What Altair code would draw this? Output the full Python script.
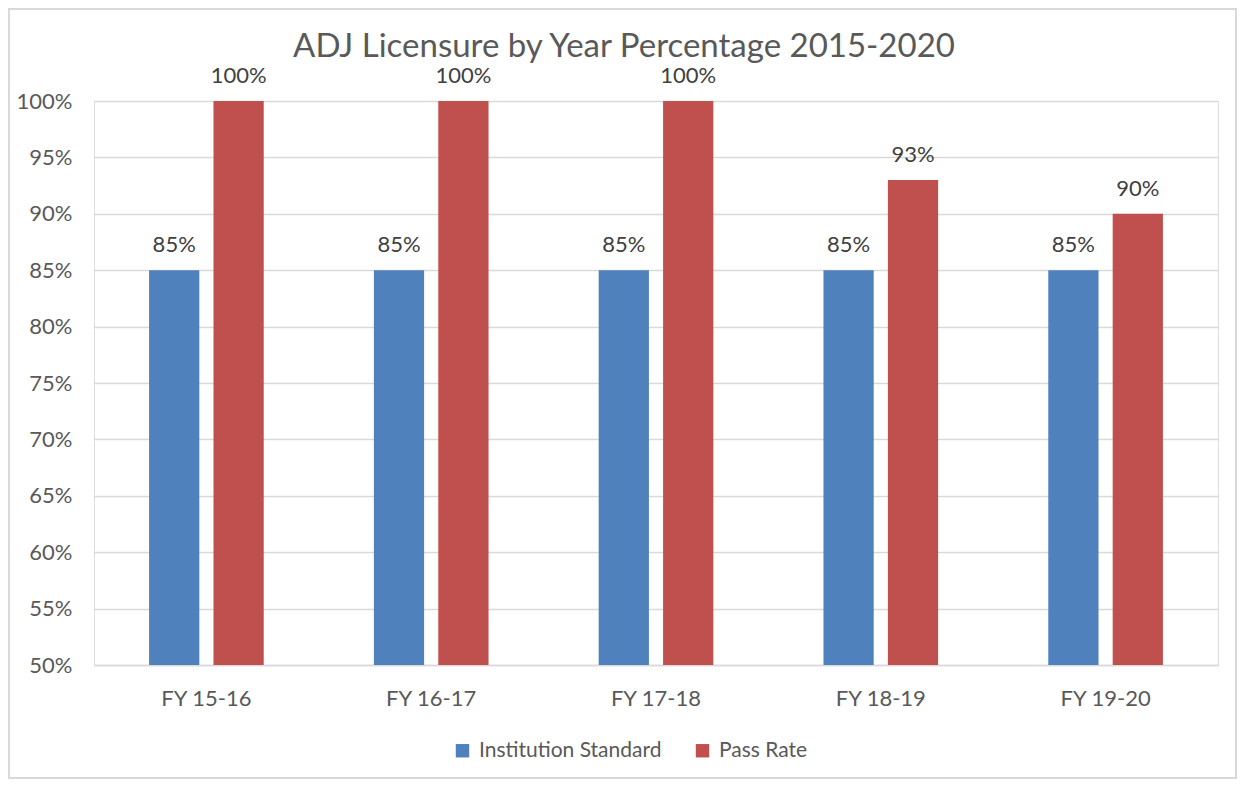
import altair as alt
import pandas as pd

years = ["FY 15-16", "FY 16-17", "FY 17-18", "FY 18-19", "FY 19-20"]
institution_standard = [0.85, 0.85, 0.85, 0.85, 0.85]
pass_rate = [1.00, 1.00, 1.00, 0.93, 0.90]
series_names = ["Institution Standard", "Pass Rate"]
series_colors = ["#4F81BD", "#C0504D"]
y_ticks = [0.50, 0.55, 0.60, 0.65, 0.70, 0.75, 0.80, 0.85, 0.90, 0.95, 1.00]

rows = []
for i, yr in enumerate(years):
    rows.append({"year": yr, "series": series_names[0], "value": institution_standard[i]})
    rows.append({"year": yr, "series": series_names[1], "value": pass_rate[i]})
df = pd.DataFrame(rows)

FONT = "Lato"
TXT = "#595959"
W, H = 1124, 564
TOTAL_W, TOTAL_H = 1229, 771
PAD_L, PAD_T = 86, 93

x_enc = alt.X("year:N", sort=years, title=None,
              scale=alt.Scale(paddingInner=0.49, paddingOuter=0.245),
              axis=alt.Axis(labelAngle=0, ticks=False, domainColor="#D9D9D9",
                            domainWidth=1.5, labelPadding=23, labelFontSize=22,
                            labelColor=TXT, labelFont=FONT))
xo_enc = alt.XOffset("series:N", sort=series_names,
                     scale=alt.Scale(paddingInner=0.22, paddingOuter=0))
y_enc = alt.Y("value:Q", title=None,
              scale=alt.Scale(domain=[0.5, 1.0], zero=False, nice=False),
              axis=alt.Axis(values=y_ticks, format=".0%", domain=False, ticks=False,
                            gridColor="#D9D9D9", gridWidth=1.3, labelPadding=22,
                            labelFontSize=22, labelColor=TXT, labelFont=FONT))

bars = alt.Chart(df).mark_bar().encode(
    x=x_enc,
    xOffset=xo_enc,
    y=y_enc,
    y2=alt.datum(0.5),
    color=alt.Color("series:N", sort=series_names,
                    scale=alt.Scale(domain=series_names, range=series_colors),
                    legend=alt.Legend(title=None, orient="none", direction="horizontal",
                                      legendX=358, legendY=639, symbolType="square",
                                      symbolSize=180, symbolStrokeWidth=0,
                                      labelFontSize=21, labelColor=TXT, labelFont=FONT,
                                      labelOffset=6, labelLimit=400,
                                      columnPadding=30, padding=0)),
)

labels = alt.Chart(df).mark_text(baseline="alphabetic", dy=-18, fontSize=22,
                                 color="#404040", font=FONT).encode(
    x=alt.X("year:N", sort=years),
    xOffset=alt.XOffset("series:N", sort=series_names),
    y="value:Q",
    text=alt.Text("value:Q", format=".0%"),
)

frame = alt.Chart(df).mark_rect(fill=None, stroke="#D9D9D9", strokeWidth=1.5).encode(
    x=alt.value(-PAD_L + 1), x2=alt.value(TOTAL_W - PAD_L - 1),
    y=alt.value(-PAD_T + 1), y2=alt.value(TOTAL_H - PAD_T - 1),
)

chart = alt.layer(bars, labels, frame).properties(
    width=W, height=H,
    title=alt.TitleParams("ADJ Licensure by Year Percentage 2015-2020",
                          anchor="middle", fontSize=33, color=TXT, font=FONT,
                          fontWeight="normal", dx=-32, dy=92, baseline="alphabetic",
                          frame="group", offset=10),
    autosize=alt.AutoSizeParams(type="none"),
    padding={"left": PAD_L, "top": PAD_T, "right": TOTAL_W - PAD_L - W,
             "bottom": TOTAL_H - PAD_T - H},
).configure_view(stroke=None).configure(background="white")

chart.save("out.html", embed_options={"renderer": "svg", "actions": False})
